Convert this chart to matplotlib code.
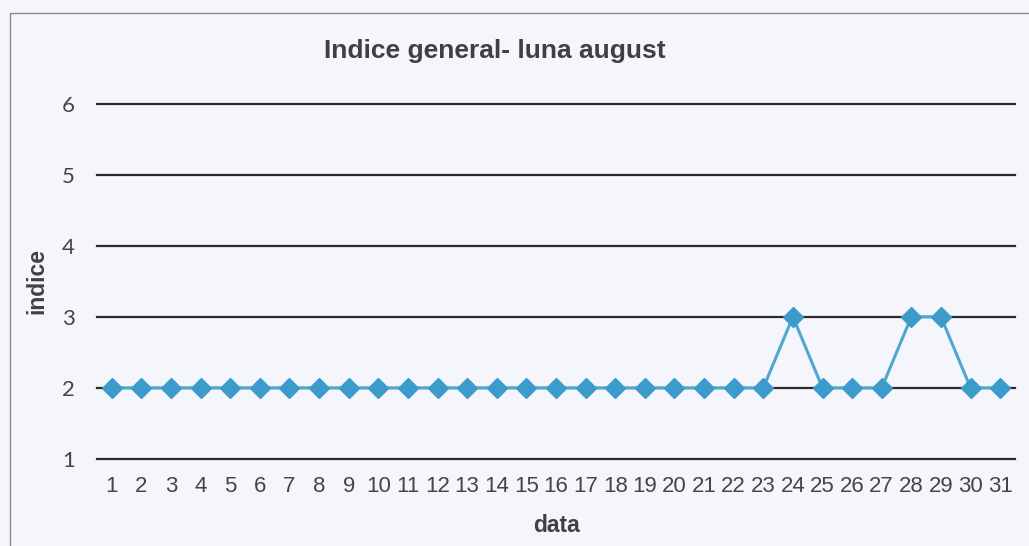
import matplotlib
matplotlib.use("Agg")
import matplotlib.pyplot as plt
from matplotlib.patches import Rectangle

days = list(range(1, 32))
values = [2, 2, 2, 2, 2, 2, 2, 2, 2, 2, 2, 2, 2, 2, 2, 2, 2, 2, 2, 2, 2, 2, 2,
          3, 2, 2, 2, 3, 3, 2, 2]
yticks = [1, 2, 3, 4, 5, 6]

bg = "#f4f6fb"
plt.rcParams['font.family'] = ['Liberation Sans', 'DejaVu Sans']

fig = plt.figure(figsize=(10.29, 5.46), dpi=100, facecolor=bg)
fig.patches.append(Rectangle((10/1029, -0.1), 1.2, (546-13)/546 + 0.1,
                             transform=fig.transFigure, fill=False,
                             edgecolor="#8a8a8a", linewidth=1.0))
ax = fig.add_axes([97/1029, 1-459/546, (1015-97)/1029, (459-103.5)/546])
ax.set_facecolor(bg)
ax.set_xlim(0.5, 31.5)
ax.set_ylim(1, 6)
ax.set_yticks(yticks)
ax.set_xticks(days)
ax.set_xticklabels([str(d) for d in days])
for y in yticks:
    ax.axhline(y, color="#2b2b2b", linewidth=1.6, zorder=1, clip_on=False)
for s in ax.spines.values():
    s.set_visible(False)
ax.tick_params(axis='both', length=0, colors="#454545")
ax.tick_params(axis='x', labelsize=16, pad=12)
ax.tick_params(axis='y', labelsize=16, pad=16)
for lab in ax.get_yticklabels():
    lab.set_fontfamily(['Lato', 'DejaVu Sans'])
ax.plot(days, values, color="#4fa7d2", linewidth=2.2, marker='D', markersize=10.5,
        markerfacecolor="#3d9bcb", markeredgecolor="#3d9bcb", zorder=3, clip_on=False)

fig.text(495/1029, 1-51/546, "Indice general- luna august", ha='center', va='center',
         fontsize=19, fontweight='bold', color="#404040")
fig.text(37/1029, 1-281/546, "indice", ha='center', va='center', rotation=90,
         fontsize=16.5, fontweight='bold', color="#404040")
fig.text(557/1029, 1-526/546, "data", ha='center', va='center',
         fontsize=16.5, fontweight='bold', color="#404040")

fig.savefig("out.png", dpi=100, facecolor=bg)
